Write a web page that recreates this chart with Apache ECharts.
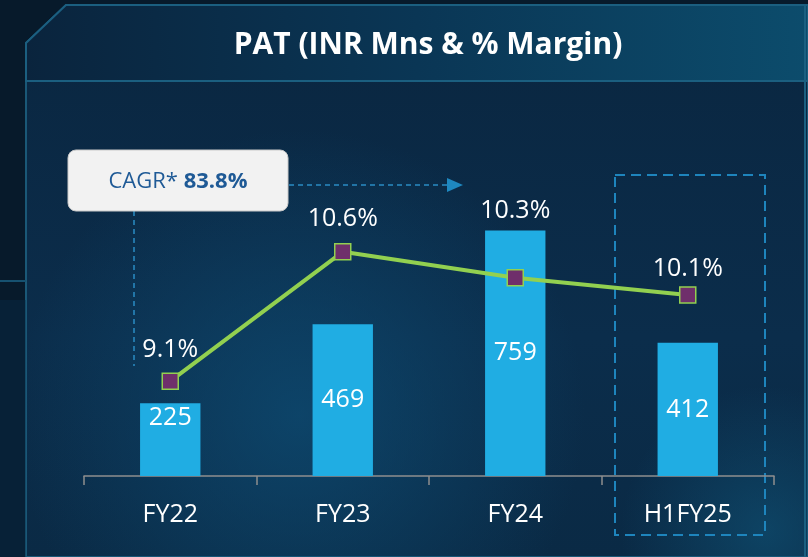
<!DOCTYPE html>
<html>
<head>
<meta charset="utf-8">
<title>PAT (INR Mns & % Margin)</title>
<script src="https://cdn.jsdelivr.net/npm/echarts@6/dist/echarts.min.js"></script>
<style>
  html, body { margin: 0; padding: 0; background: #071a2b; }
  #chart { width: 808px; height: 557px; }
</style>
</head>
<body>
<div id="chart"></div>
<script>
// chart data
var periods = ['FY22', 'FY23', 'FY24', 'H1FY25'];
var patValues = [225, 469, 759, 412];
var marginPct = [9.1, 10.6, 10.3, 10.1];
var cagrText = '83.8%';

var chart = echarts.init(document.getElementById('chart'));

var FONT = '"Open Sans", "Noto Sans", sans-serif';

var barData = patValues.map(function (v, i) {
    // the first bar is short, so its number sits at the top
    if (i === 0) {
        return { value: v, label: { position: 'insideTop', distance: 2 } };
    }
    return v;
});

var lineData = marginPct.map(function (v, i) {
    // FY24 label is lifted above the bar top
    var gap = [10, 12, 46, 5][i];
    return { value: v, label: { distance: gap } };
});

var option = {
    backgroundColor: '#071a2b',
    animation: false,
    graphic: [
        // body panel
        {
            type: 'polygon', z: -10, silent: true,
            shape: { points: [[26, 43], [66, 5], [808, 5], [808, 557], [26, 557]] },
            style: {
                fill: new echarts.graphic.LinearGradient(0, 0, 0, 1, [
                    { offset: 0, color: '#0a2640' },
                    { offset: 0.6, color: '#0b2d4b' },
                    { offset: 1, color: '#0a2a45' }
                ]),
                stroke: '#1a5877', lineWidth: 2
            }
        },
        // glow low in the panel
        {
            type: 'rect', z: -9, silent: true,
            shape: { x: 26, y: 82, width: 782, height: 475 },
            style: {
                fill: new echarts.graphic.RadialGradient(0.35, 0.7, 0.6, [
                    { offset: 0, color: 'rgba(14,78,118,0.7)' },
                    { offset: 1, color: 'rgba(14,78,118,0)' }
                ])
            }
        },
        {
            type: 'rect', z: -9, silent: true,
            shape: { x: 600, y: 300, width: 208, height: 257 },
            style: {
                fill: new echarts.graphic.RadialGradient(0.8, 0.9, 0.7, [
                    { offset: 0, color: 'rgba(16,84,120,0.6)' },
                    { offset: 1, color: 'rgba(16,84,120,0)' }
                ])
            }
        },
        // left outside strip glow and line
        {
            type: 'rect', z: -9, silent: true,
            shape: { x: 0, y: 300, width: 26, height: 257 },
            style: { fill: 'rgba(10,50,78,0.35)' }
        },
        {
            type: 'line', z: -8, silent: true,
            shape: { x1: 0, y1: 281, x2: 26, y2: 281 },
            style: { stroke: '#165170', lineWidth: 2 }
        },
        // header band
        {
            type: 'polygon', z: -7, silent: true,
            shape: { points: [[26, 43], [66, 5], [808, 5], [808, 81], [26, 81]] },
            style: {
                fill: new echarts.graphic.LinearGradient(0, 0, 1, 0, [
                    { offset: 0, color: '#0a243d' },
                    { offset: 0.5, color: '#0a3655' },
                    { offset: 1, color: '#0c4c6c' }
                ]),
                stroke: '#1b5f80', lineWidth: 2
            }
        },
        {
            type: 'line', z: -6, silent: true,
            shape: { x1: 805, y1: 5, x2: 805, y2: 557 },
            style: { stroke: '#1b5f80', lineWidth: 2 }
        },
        {
            type: 'text', silent: true, x: 428, y: 45,
            style: {
                text: 'PAT (INR Mns & % Margin)',
                fill: '#ffffff', font: 'bold 30px ' + FONT,
                align: 'center', verticalAlign: 'middle'
            }
        },
        // CAGR annotation
        {
            type: 'line', silent: true,
            shape: { x1: 289, y1: 185, x2: 448, y2: 185 },
            style: { stroke: '#2a8cc4', lineWidth: 1.5, lineDash: [5, 4] }
        },
        {
            type: 'polygon', silent: true,
            shape: { points: [[447, 178], [463, 185], [447, 192]] },
            style: { fill: '#1e88c0' }
        },
        {
            type: 'line', silent: true,
            shape: { x1: 134, y1: 211, x2: 134, y2: 366 },
            style: { stroke: '#2a8cc4', lineWidth: 1.5, lineDash: [5, 4] }
        },
        {
            type: 'rect', silent: true,
            shape: { x: 68, y: 150, width: 220, height: 61, r: 8 },
            style: { fill: '#f2f2f2', stroke: '#c9c9c9', lineWidth: 1 }
        },
        {
            type: 'text', silent: true, x: 178, y: 182,
            style: {
                text: '{a|CAGR* }{b|' + cagrText + '}',
                align: 'center', verticalAlign: 'middle',
                rich: {
                    a: { fill: '#1f5a96', fontSize: 22, fontFamily: FONT },
                    b: { fill: '#1f5a96', fontSize: 22, fontFamily: FONT, fontWeight: 'bold' }
                }
            }
        },
        // dashed frame round the half-year
        {
            type: 'rect', silent: true,
            shape: { x: 615, y: 175, width: 150, height: 360 },
            style: { fill: 'none', stroke: '#1e85bd', lineWidth: 2, lineDash: [10, 6] }
        }
    ],
    grid: { left: 84, right: 34, top: 88, bottom: 81 },
    xAxis: {
        type: 'category',
        data: periods,
        axisLine: { lineStyle: { color: '#8e8e8e', width: 1.5 } },
        axisTick: { show: true, length: 9, lineStyle: { color: '#8e8e8e', width: 1.5 } },
        axisLabel: { color: '#ffffff', fontSize: 25, fontFamily: FONT, margin: 26 }
    },
    yAxis: [
        { type: 'value', min: 0, max: 1200, show: false, splitLine: { show: false } },
        { type: 'value', min: 8, max: 12.5, show: false, splitLine: { show: false } }
    ],
    series: [
        {
            name: 'PAT',
            type: 'bar',
            data: barData,
            barWidth: '35%',
            itemStyle: { color: '#20ade3' },
            label: {
                show: true, position: 'inside',
                color: '#ffffff', fontSize: 25, fontFamily: FONT
            }
        },
        {
            name: 'Margin',
            type: 'line',
            yAxisIndex: 1,
            data: lineData,
            symbol: 'rect',
            symbolSize: 16,
            lineStyle: { color: '#92d050', width: 4 },
            itemStyle: { color: '#6f2f6b', borderColor: '#92d050', borderWidth: 1.5 },
            label: {
                show: true, position: 'top',
                color: '#ffffff', fontSize: 25, fontFamily: FONT,
                formatter: function (p) { return p.value.toFixed(1) + '%'; }
            },
            z: 5
        }
    ]
};

chart.setOption(option);
</script>
</body>
</html>
